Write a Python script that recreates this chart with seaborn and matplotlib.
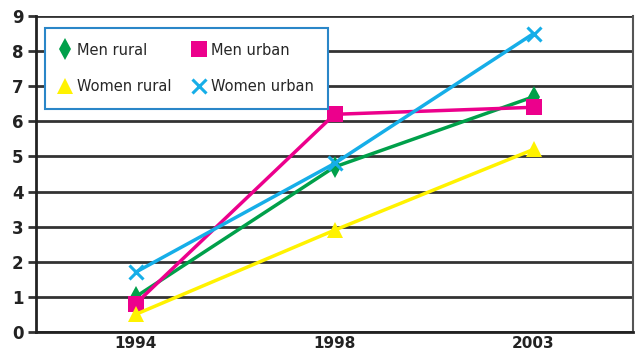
import matplotlib
matplotlib.use("Agg")
import matplotlib.pyplot as plt
import seaborn as sns
import pandas as pd

years = ["1994", "1998", "2003"]
series_names = ["Men rural", "Men urban", "Women rural", "Women urban"]
men_rural = [1.0, 4.7, 6.7]
men_urban = [0.8, 6.2, 6.4]
women_rural = [0.5, 2.9, 5.2]
women_urban = [1.7, 4.8, 8.5]
y_ticks = [0, 1, 2, 3, 4, 5, 6, 7, 8, 9]

colors = {"Men rural": "#00a04a", "Men urban": "#ec008c",
          "Women rural": "#fff200", "Women urban": "#16aee8"}
markers = {"Men rural": "d", "Men urban": "s", "Women rural": "^", "Women urban": "x"}

rows = []
for name, vals in zip(series_names, [men_rural, men_urban, women_rural, women_urban]):
    for y, v in zip(years, vals):
        rows.append({"Year": y, "Value": v, "Series": name})
df = pd.DataFrame(rows)

sns.set_theme(style="white")
plt.rcParams["font.family"] = ["DejaVu Sans"]

fig = plt.figure(figsize=(6.39, 3.52), dpi=100)
ax = fig.add_axes([36 / 639, 20 / 352, (633 - 36) / 639, (332 - 16) / 352])

for y in y_ticks:
    ax.axhline(y, color="#333333", lw=2.0, zorder=1)

for name in series_names:
    m = markers[name]
    if m == "x":
        kw = dict(markeredgewidth=2.2, markersize=10, markeredgecolor=colors[name])
    else:
        kw = dict(markeredgewidth=0, markersize=11)
    sns.lineplot(data=df[df["Series"] == name], x="Year", y="Value", color=colors[name],
                 marker=m, linewidth=2.5, ax=ax, sort=False, zorder=3, label=name, **kw)

ax.set_xlim(-0.5, 2.5)
ax.set_ylim(0, 9)
ax.set_yticks(y_ticks)
ax.set_yticklabels([str(v) for v in y_ticks], fontsize=12, fontweight="semibold",
                   color="#222222")
ax.set_xticks([0, 1, 2])
ax.set_xticklabels(years, fontsize=11, fontweight="semibold", color="#222222")
ax.set_xticks([-0.5, 0.5, 1.5, 2.5], minor=True)
ax.tick_params(axis="x", which="major", length=0, pad=3)
ax.tick_params(axis="x", which="minor", length=8, width=1.5, color="#222222", direction="out")
ax.tick_params(axis="y", which="major", length=6, width=2, color="#333333", direction="out", left=True, pad=3)
ax.set_xlabel("")
ax.set_ylabel("")

for side in ["left", "bottom"]:
    ax.spines[side].set_color("#222222")
    ax.spines[side].set_linewidth(2)
ax.spines["right"].set_color("#555555")
ax.spines["right"].set_linewidth(1.5)
ax.spines["top"].set_visible(False)

handles, labels = ax.get_legend_handles_labels()
hmap = dict(zip(labels, handles))
order = ["Men rural", "Women rural", "Men urban", "Women urban"]
leg = ax.legend([hmap[o] for o in order], order, ncol=2, loc="upper left",
                bbox_to_anchor=(9 / 597, 1 - 12 / 316), bbox_transform=ax.transAxes,
                prop={"size": 10.5}, frameon=True, fancybox=False,
                framealpha=1, columnspacing=1.5,
                handlelength=0.8, handletextpad=0.4, labelspacing=1.5,
                borderpad=1.0, borderaxespad=0)
leg.get_frame().set_edgecolor("#2a86c8")
leg.get_frame().set_linewidth(1.5)
leg.get_frame().set_facecolor("white")
leg.set_zorder(5)
for h in leg.legend_handles:
    h.set_linestyle("none")

fig.savefig("out.png", dpi=100, facecolor="white")
